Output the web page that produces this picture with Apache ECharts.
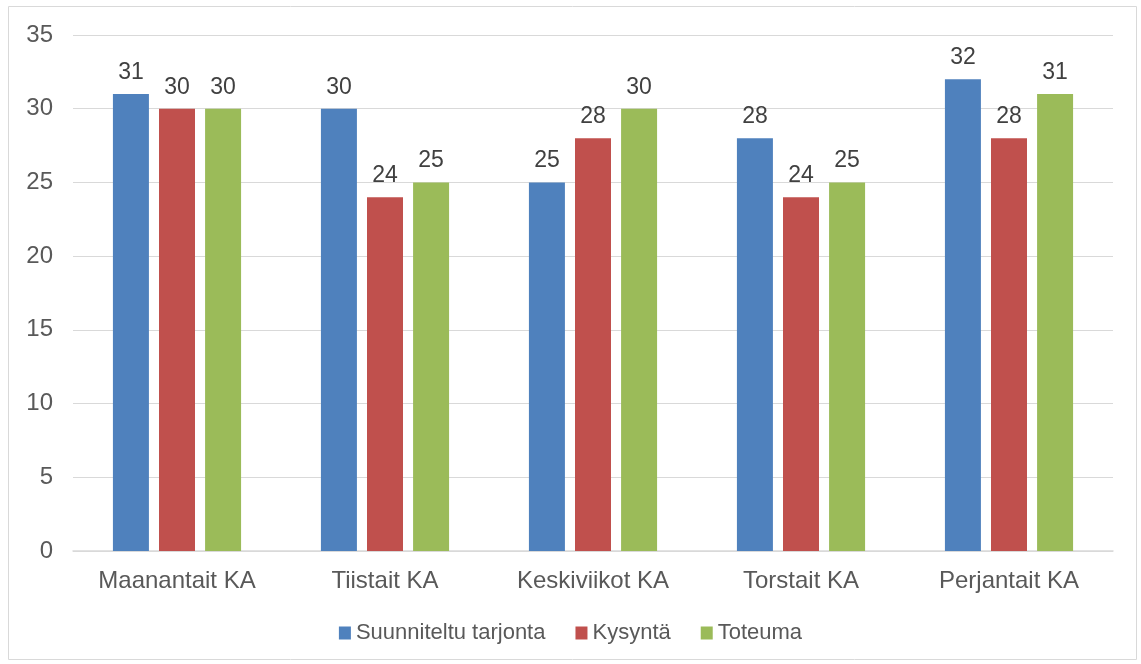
<!DOCTYPE html>
<html lang="fi">
<head>
<meta charset="UTF-8">
<title>Tarjonta ja kysyntä</title>
<script src="https://cdn.jsdelivr.net/npm/echarts@6.0.0/dist/echarts.min.js"></script>
<style>
  html, body { margin: 0; padding: 0; background: #fff; }
  #main { width: 1141px; height: 664px; }
</style>
</head>
<body>
<div id="main"></div>
<script>
// data
const categories = ['Maanantait KA', 'Tiistait KA', 'Keskiviikot KA', 'Torstait KA', 'Perjantait KA'];
const suunniteltu = [31, 30, 25, 28, 32];
const kysynta = [30, 24, 28, 24, 28];
const toteuma = [30, 25, 30, 25, 31];

const chart = echarts.init(document.getElementById('main'));

const font = 'Liberation Sans, Arial, sans-serif';
const labelStyle = {
  show: true,
  position: 'top',
  distance: 10,
  fontFamily: font,
  fontSize: 23,
  color: '#404040'
};

function bar(name, data, color) {
  return {
    name: name,
    type: 'bar',
    data: data,
    barWidth: 36,
    barGap: '28%',
    itemStyle: { color: color },
    label: labelStyle
  };
}

chart.setOption({
  animation: false,
  textStyle: { fontFamily: font },
  graphic: [{
    type: 'rect',
    shape: { x: 8.5, y: 6.5, width: 1128, height: 653 },
    style: { fill: 'none', stroke: '#d9d9d9', lineWidth: 1 },
    silent: true
  }],
  grid: { left: 73, right: 28, top: 35, bottom: 113 },
  legend: {
    top: 617,
    left: 'center',
    itemWidth: 12,
    itemHeight: 13,
    itemGap: 30,
    icon: 'rect',
    textStyle: { fontFamily: font, fontSize: 22, color: '#595959' },
    data: ['Suunniteltu tarjonta', 'Kysyntä', 'Toteuma']
  },
  xAxis: {
    type: 'category',
    data: categories,
    axisLine: { lineStyle: { color: '#d9d9d9', width: 1.5 } },
    axisTick: { show: false },
    axisLabel: { fontFamily: font, fontSize: 24, color: '#595959', margin: 18 }
  },
  yAxis: {
    type: 'value',
    min: 0,
    max: 35,
    interval: 5,
    axisLine: { show: false },
    axisTick: { show: false },
    splitLine: { lineStyle: { color: '#d9d9d9', width: 1 } },
    axisLabel: { fontFamily: font, fontSize: 24, color: '#595959', margin: 20 }
  },
  series: [
    bar('Suunniteltu tarjonta', suunniteltu, '#4f81bd'),
    bar('Kysyntä', kysynta, '#c0504d'),
    bar('Toteuma', toteuma, '#9bbb59')
  ]
});
</script>
</body>
</html>
